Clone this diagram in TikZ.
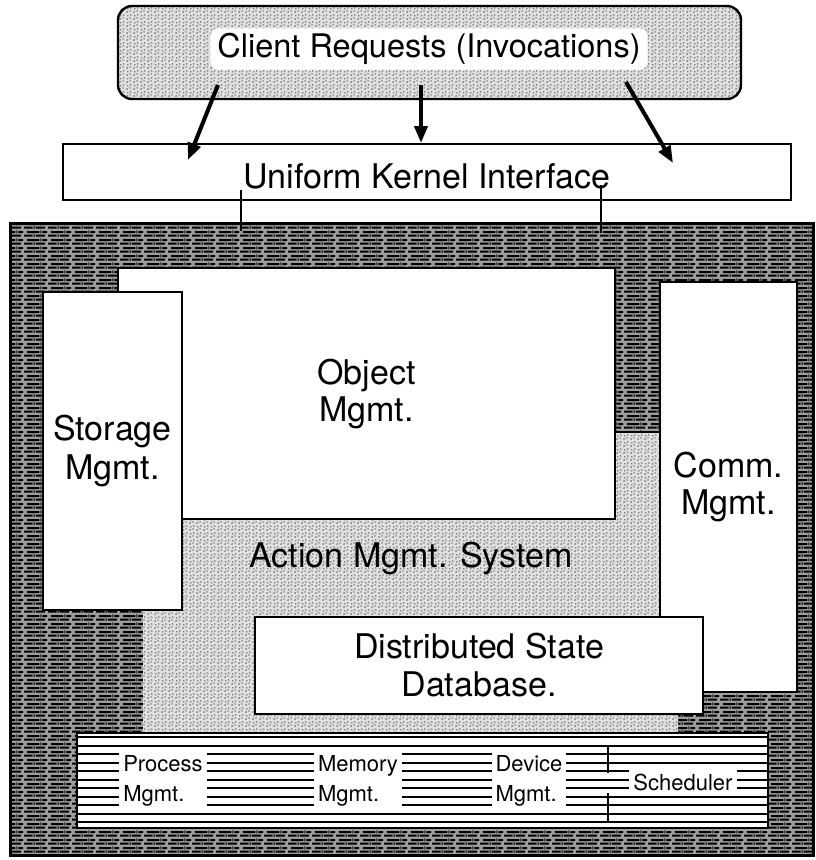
\documentclass[tikz,border=0pt]{standalone}
\usepackage{fontspec}
\setmainfont{TeX Gyre Heros}
\usetikzlibrary{patterns,arrows.meta}

\pgfdeclarepatternformonly{brickdash}{\pgfpointorigin}{\pgfpoint{24pt}{8pt}}{\pgfpoint{24pt}{8pt}}{
  \pgfsetlinewidth{2.2pt}
  \pgfpathmoveto{\pgfpoint{0pt}{1.5pt}}\pgfpathlineto{\pgfpoint{9pt}{1.5pt}}
  \pgfpathmoveto{\pgfpoint{12pt}{1.5pt}}\pgfpathlineto{\pgfpoint{22pt}{1.5pt}}
  \pgfpathmoveto{\pgfpoint{3pt}{5.5pt}}\pgfpathlineto{\pgfpoint{16pt}{5.5pt}}
  \pgfpathmoveto{\pgfpoint{19pt}{5.5pt}}\pgfpathlineto{\pgfpoint{24pt}{5.5pt}}
  \pgfusepath{stroke}
  \pgfsetlinewidth{1pt}
  \pgfpathmoveto{\pgfpoint{10.5pt}{0pt}}\pgfpathlineto{\pgfpoint{10.5pt}{3.5pt}}
  \pgfpathmoveto{\pgfpoint{17.5pt}{4pt}}\pgfpathlineto{\pgfpoint{17.5pt}{7.5pt}}
  \pgfusepath{stroke}
}

\pgfdeclarepatternformonly{stip}{\pgfpointorigin}{\pgfpoint{7pt}{7pt}}{\pgfpoint{7pt}{7pt}}{
  \pgfsetlinewidth{1pt}
  \pgfpathmoveto{\pgfpoint{0.5pt}{1pt}}\pgfpathlineto{\pgfpoint{2pt}{1.3pt}}
  \pgfpathmoveto{\pgfpoint{4pt}{2.5pt}}\pgfpathlineto{\pgfpoint{5.3pt}{2.2pt}}
  \pgfpathmoveto{\pgfpoint{1.5pt}{4.5pt}}\pgfpathlineto{\pgfpoint{2.7pt}{4.8pt}}
  \pgfpathmoveto{\pgfpoint{4.8pt}{5.8pt}}\pgfpathlineto{\pgfpoint{6.2pt}{5.6pt}}
  \pgfusepath{stroke}
}

\begin{document}
\begin{tikzpicture}[x=1pt,y=-1pt,
  box/.style={draw=black, line width=2.4pt, fill=white, inner sep=0pt},
  big/.style={font=\fontsize{34}{37}\selectfont, align=center},
  small/.style={font=\fontsize{22}{30}\selectfont, align=left, fill=white, inner sep=4pt},
  arr/.style={line width=4pt, -{Triangle[length=17pt,width=13pt]}},
  link/.style={line width=2.8pt},
  brick/.style={preaction={fill=black!38}, pattern=brickdash, pattern color=black},
  stipple/.style={preaction={fill=black!12}, pattern=stip, pattern color=black!85},
  barline/.style={line width=2pt}]

\useasboundingbox (0,0) rectangle (816,860);

% main frame
\node[brick, draw=black, line width=3pt, minimum width=803pt, minimum height=632pt, inner sep=0pt] (frame) at (411.5,539) {};

% action management region
\path[stipple] (143,519) -- (615,519) -- (615,432) -- (660,432) -- (660,700) -- (678,700) -- (678,733) -- (143,733) -- cycle;
\draw[line width=2.5pt] (615,432) -- (660,432);
\node[big, anchor=base] (action) at (411,567) {Action Mgmt. System};

% boxes
\node[box, big, minimum width=497pt, minimum height=251pt] (object) at (366.5,393.5) {Object\\Mgmt.};
\node[box, big, minimum width=139pt, minimum height=318pt, font=\fontsize{34}{39}\selectfont] (storage) at (112.5,451) {Storage\\Mgmt.};
\node[box, big, minimum width=137pt, minimum height=410pt] (comm) at (728.5,487) {Comm.\\Mgmt.};
\node[box, big, minimum width=448pt, minimum height=97pt, font=\fontsize{34}{38}\selectfont] (dist) at (479,665.5) {Distributed State\\Database.};

% bottom bar
\node[box, line width=2pt, minimum width=691pt, minimum height=95pt] (bar) at (422.5,780.5) {};
\foreach \yy in {737,745.5,...,823} {
  \draw[barline] (bar.west |- 0,\yy) -- (bar.east |- 0,\yy);
}
\draw[barline] (608,745) -- (608,773);
\draw[barline] (608,793) -- (608,823);
\node[small] (process) at (163,781) {Process\\Mgmt.};
\node[small] (memory) at (358,781) {Memory\\Mgmt.};
\node[small] (device) at (529,781) {Device\\Mgmt.};
\node[small] (sched) at (683,782) {Scheduler};

% top
\node[stipple, draw=black, line width=2.4pt, rounded corners=14pt, minimum width=623pt, minimum height=93pt, inner sep=0pt] (client) at (429.5,52.5) {};
\node[fill=white, rounded corners=8pt, inner xsep=7pt, inner ysep=5pt, font=\fontsize{32.5}{36}\selectfont] (clientlbl) at (429,49) {Client Requests (Invocations)};

\node[box, minimum width=728pt, minimum height=56pt, font=\fontsize{34}{36}\selectfont, text height=32pt, text depth=0pt] (uki) at (427,172) {Uniform Kernel Interface};

% arrows
\coordinate (a1s) at (218,85);
\coordinate (a1e) at (188,160);
\coordinate (a2s) at (421,85);
\coordinate (a2e) at (421,143);
\coordinate (a3s) at (626,82);
\coordinate (a3e) at (673,163);
\draw[arr] (a1s) -- (a1e);
\draw[arr] (a2s) -- (a2e);
\draw[arr] (a3s) -- (a3e);

% links from interface to kernel
\coordinate (l1s) at (241,190);
\coordinate (l1e) at (241,231);
\coordinate (l2s) at (601,185);
\coordinate (l2e) at (601,233);
\draw[link] (l1s) -- (l1e);
\draw[link] (l2s) -- (l2e);
\end{tikzpicture}
\end{document}
